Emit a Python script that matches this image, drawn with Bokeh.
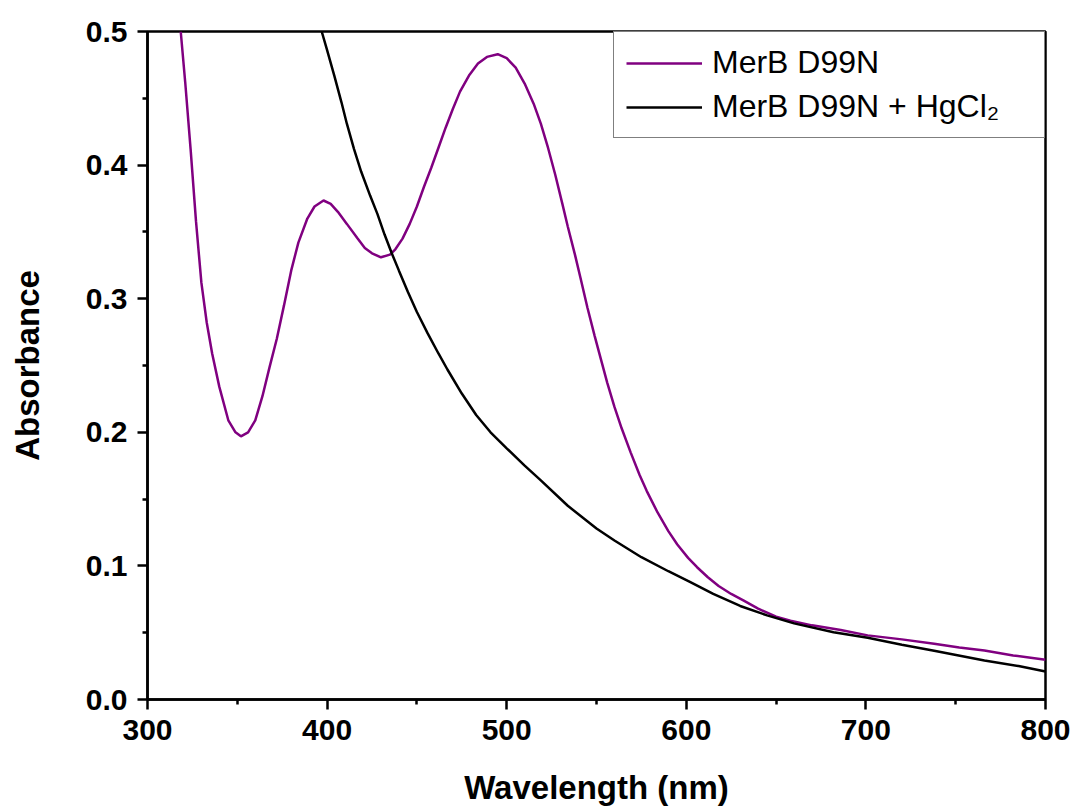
from bokeh.plotting import figure
from bokeh.models import FixedTicker, Legend, LegendItem, PrintfTickFormatter, Range1d
from bokeh.embed import file_html
from bokeh.resources import INLINE

# ---- data ----
wl_merb = [318.5, 321, 324, 327, 330, 333, 336, 340, 345, 349, 352, 356, 360, 364, 368,
           372, 376, 380, 384, 389, 393, 398, 402, 406, 411, 417, 421, 425, 430, 435,
           438, 442, 446, 450, 454, 458, 462, 466, 470, 474, 479, 484, 489, 495, 500,
           505, 510, 515, 519, 523, 527, 531, 534, 538, 541, 545, 549, 553, 556, 560,
           564, 569, 574, 578, 584, 590, 595, 601, 606, 612, 618, 625, 632, 640, 650,
           658, 670, 686, 701, 720, 738, 752, 766, 782, 800]
abs_merb = [0.500, 0.462, 0.412, 0.358, 0.312, 0.282, 0.259, 0.234, 0.209, 0.200, 0.197,
            0.200, 0.209, 0.227, 0.249, 0.270, 0.295, 0.321, 0.342, 0.360, 0.369, 0.3735,
            0.371, 0.365, 0.356, 0.345, 0.338, 0.334, 0.331, 0.333, 0.337, 0.345, 0.356,
            0.369, 0.384, 0.398, 0.413, 0.428, 0.442, 0.455, 0.467, 0.476, 0.481, 0.483,
            0.480, 0.473, 0.461, 0.446, 0.431, 0.413, 0.393, 0.371, 0.354, 0.333, 0.316,
            0.293, 0.272, 0.252, 0.237, 0.219, 0.203, 0.185, 0.168, 0.156, 0.140, 0.126,
            0.116, 0.106, 0.099, 0.0915, 0.085, 0.079, 0.074, 0.068, 0.062, 0.059, 0.0555,
            0.052, 0.048, 0.045, 0.0417, 0.039, 0.0367, 0.033, 0.0297]

wl_hg = [397, 400, 404, 408, 411, 415, 419, 424, 428, 432, 436, 440, 445, 450, 456, 462,
         467, 475, 483, 491, 500, 510, 519, 534, 550, 560, 575, 590, 602, 615, 630, 645,
         660, 682, 701, 720, 738, 766, 785, 800]
abs_hg = [0.500, 0.486, 0.467, 0.447, 0.431, 0.412, 0.395, 0.377, 0.3635, 0.348, 0.334,
          0.321, 0.305, 0.290, 0.274, 0.259, 0.247, 0.229, 0.213, 0.200, 0.188, 0.175,
          0.164, 0.145, 0.128, 0.119, 0.1065, 0.096, 0.088, 0.079, 0.070, 0.063, 0.057,
          0.0504, 0.0462, 0.041, 0.0365, 0.0292, 0.025, 0.021]

x_ticks = [300, 400, 500, 600, 700, 800]
x_minor = [350, 450, 550, 650, 750]
y_ticks = [0.0, 0.1, 0.2, 0.3, 0.4, 0.5]
y_minor = [0.05, 0.15, 0.25, 0.35, 0.45]

label_merb = "MerB D99N"
label_hg = "MerB D99N + HgCl\u2082"

FONT = "Liberation Sans"

p = figure(width=1075, height=808, output_backend="svg", toolbar_location=None,
           x_range=Range1d(300, 800), y_range=Range1d(0, 0.5),
           min_border_left=147, min_border_right=30, min_border_top=31, min_border_bottom=109,
           background_fill_color="white", border_fill_color="white")
p.grid.visible = False
p.outline_line_color = "black"
p.outline_line_width = 2.5

r1 = p.line(wl_merb, abs_merb, line_color="#800080", line_width=2.5)
r2 = p.line(wl_hg, abs_hg, line_color="black", line_width=2.5)

p.xaxis.ticker = FixedTicker(ticks=x_ticks, minor_ticks=x_minor)
p.yaxis.ticker = FixedTicker(ticks=y_ticks, minor_ticks=y_minor)
p.yaxis.formatter = PrintfTickFormatter(format="%.1f")

for ax in (p.xaxis, p.yaxis):
    ax.axis_line_width = 2.5
    ax.axis_line_color = "black"
    ax.major_tick_line_width = 2.5
    ax.minor_tick_line_width = 2.5
    ax.major_tick_in = 0
    ax.major_tick_out = 10
    ax.minor_tick_in = 0
    ax.minor_tick_out = 5
    ax.major_label_text_font = FONT
    ax.major_label_text_font_style = "bold"
    ax.major_label_text_font_size = "30px"
    ax.major_label_text_color = "black"
    ax.axis_label_text_font = FONT
    ax.axis_label_text_font_style = "bold"
    ax.axis_label_text_font_size = "33px"
    ax.axis_label_text_color = "black"

p.xaxis.axis_label = "Wavelength (nm)"
p.yaxis.axis_label = "Absorbance"
p.xaxis.major_label_standoff = 10
p.yaxis.major_label_standoff = 10
p.xaxis.axis_label_standoff = 26
p.yaxis.axis_label_standoff = 37

legend = Legend(items=[LegendItem(label=label_merb, renderers=[r1]),
                       LegendItem(label=label_hg, renderers=[r2])],
                location="top_right", margin=0, padding=12, spacing=7,
                glyph_width=76, glyph_height=36, label_height=36, label_standoff=10,
                label_width=320,
                label_text_font=FONT, label_text_font_size="32px", label_text_color="black",
                border_line_color="black", border_line_width=1.5,
                background_fill_color="white", background_fill_alpha=1.0)
p.add_layout(legend)

open("out.html", "w").write(file_html(p, INLINE))
